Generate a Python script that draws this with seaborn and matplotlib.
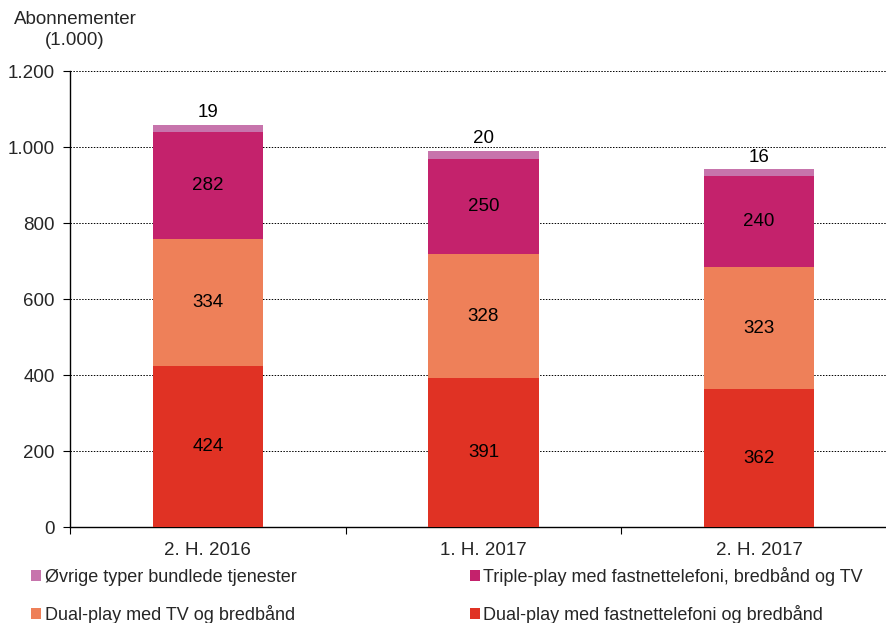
import numpy as np
import pandas as pd
import matplotlib
matplotlib.use("Agg")
import matplotlib.pyplot as plt
import seaborn as sns
from matplotlib.ticker import FuncFormatter
from matplotlib.patches import Patch

# Data
periods = ["2. H. 2016", "1. H. 2017", "2. H. 2017"]
dual_fast = [424, 391, 362]      # Dual-play med fastnettelefoni og bredbånd
dual_tv = [334, 328, 323]        # Dual-play med TV og bredbånd
triple = [282, 250, 240]         # Triple-play med fastnettelefoni, bredbånd og TV
ovrige = [19, 20, 16]            # Øvrige typer bundlede tjenester

series_names = [
    "Dual-play med fastnettelefoni og bredbånd",
    "Dual-play med TV og bredbånd",
    "Triple-play med fastnettelefoni, bredbånd og TV",
    "Øvrige typer bundlede tjenester",
]
colors = ["#e03224", "#ee8059", "#c4226c", "#c774ac"]

sns.set_style("white")
plt.rcParams["font.family"] = ["Liberation Sans", "DejaVu Sans"]

df = pd.DataFrame({
    "period": periods,
    series_names[0]: dual_fast,
    series_names[1]: dual_tv,
    series_names[2]: triple,
    series_names[3]: ovrige,
})
values = df[series_names].to_numpy()
cum = values.cumsum(axis=1)

fig = plt.figure(figsize=(8.87, 6.23), dpi=100)
ax = fig.add_axes([70 / 887, 1 - 527 / 623, 827 / 887, 456 / 623])

# draw from the top layer downward so each layer covers the previous one
for i in range(len(series_names) - 1, -1, -1):
    sns.barplot(x=df["period"], y=cum[:, i], color=colors[i], width=0.4,
                saturation=1, linewidth=0, edgecolor="none", ax=ax, zorder=3)

# value labels
fs = 13.5
for j in range(len(periods)):
    for i in range(3):
        mid = cum[j, i] - values[j, i] / 2
        ax.text(j, mid, str(values[j, i]), ha="center", va="center",
                fontsize=fs, color="black", zorder=4)
    ax.text(j, cum[j, 3] + 10, str(values[j, 3]), ha="center", va="bottom",
            fontsize=fs, color="black", zorder=4)

ax.set_ylim(0, 1200)
ax.set_xlim(-0.5, 2.5)
ax.set_yticks(range(0, 1201, 200))
ax.yaxis.set_major_formatter(FuncFormatter(lambda v, p: f"{int(v):,}".replace(",", ".")))
ax.yaxis.grid(True, linestyle=(0, (1.5, 1.5)), color="black", linewidth=0.7, zorder=0)
ax.set_axisbelow(True)
ax.set_xlabel("")
ax.set_ylabel("")

for side in ["top", "right"]:
    ax.spines[side].set_visible(False)
for side in ["left", "bottom"]:
    ax.spines[side].set_color("black")
    ax.spines[side].set_linewidth(1.0)

ax.tick_params(axis="y", which="major", left=True, length=5, width=0.8,
               direction="out", labelsize=fs, pad=6, color="black")
ax.set_xticks([-0.5, 0.5, 1.5, 2.5], minor=False)
ax.set_xticklabels([])
ax.set_xticks([0, 1, 2], minor=True)
ax.set_xticklabels(periods, minor=True)
ax.tick_params(axis="x", which="major", bottom=True, length=5, width=0.8,
               direction="out", color="black")
ax.tick_params(axis="x", which="minor", bottom=False, labelsize=fs, pad=9)

fig.text(75 / 887, 1 - 30 / 623, "Abonnementer\n(1.000)", ha="center", va="center",
         fontsize=fs, linespacing=1.25)

# legend, row-major order as in the reference
order = [3, 1, 2, 0]
handles = [Patch(facecolor=colors[i], edgecolor="none") for i in order]
labels = [series_names[i] for i in order]
fig.legend(handles, labels, ncol=2, loc="upper left",
           bbox_to_anchor=(24 / 887, 1 - 560 / 623), frameon=False,
           fontsize=13, handlelength=0.55, handleheight=0.55, handletextpad=0.2,
           columnspacing=9.6, labelspacing=1.05, borderaxespad=0)

fig.savefig("out.png", dpi=100)
